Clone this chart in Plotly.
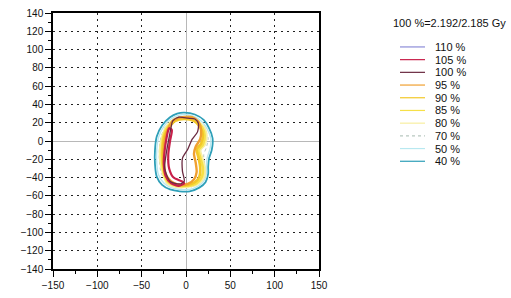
import plotly.graph_objects as go

# ---- data -------------------------------------------------------------
x_tick_vals = [-150, -100, -50, 0, 50, 100, 150]
y_tick_vals = [-140, -120, -100, -80, -60, -40, -20, 0, 20, 40, 60, 80, 100, 120, 140]
header_text = "100 %=2.192/2.185 Gy"

legend_levels = ["110 %", "105 %", "100 %", "95 %", "90 %", "85 %", "80 %", "70 %", "50 %", "40 %"]
legend_colors = ["#8c8cd8", "#c8204a", "#6a2a40", "#f0a030", "#f3c828", "#f6e048",
                 "#f8eea0", "#b8c8c0", "#b8e8f0", "#2e9fb8"]
legend_dash = ["solid", "solid", "solid", "solid", "solid", "solid", "solid", "dot", "solid", "solid"]

# isodose contours (mm)
iso40_x = [-2, 10, 20, 26, 30, 29, 26, 25, 25, 22, 15, 4, -7, -18, -27, -33, -35, -35, -33, -27, -18, -10, -2]
iso40_y = [31, 29, 23, 14, 3, -10, -19, -28, -36, -45, -51, -55, -55, -53, -48, -39, -25, -10, 5, 17, 26, 30, 31]

iso50_x = [-2, 9, 18, 24, 28, 27, 24, 23, 23, 20, 14, 4, -7, -17, -25, -31, -33, -33, -31, -25, -17, -9, -2]
iso50_y = [29, 27, 21, 13, 3, -9, -18, -28, -36, -44, -49, -53, -53, -51, -46, -37, -24, -10, 4, 16, 24, 28, 29]

iso70_x = [-2, 9, 17, 22, 25, 23, 20, 21, 21, 18, 12, 3, -7, -16, -23, -28, -30, -30, -28, -23, -16, -9, -2]
iso70_y = [27, 25, 19, 11, 3, -7, -15, -25, -34, -42, -48, -51, -51, -48, -43, -35, -22, -8, 5, 16, 22, 26, 27]

iso80_x = [-2, 11, 20, 23, 21, 16, 18, 21, 20, 13, 2, -11, -21, -26, -29, -29, -26, -21, -12, -2]
iso80_y = [26, 23, 15, 6, -4, -10, -18, -29, -40, -47, -50, -50, -46, -35, -21, -7, 7, 17, 24, 26]

iso85_x = [-2, 10, 18, 21, 19, 14, 16, 19, 18, 12, 2, -10, -20, -25, -27, -27, -25, -20, -12, -2]
iso85_y = [25, 22, 15, 6, -4, -10, -18, -29, -39, -46, -49, -49, -45, -35, -21, -7, 7, 16, 23, 25]

iso90_x = [-2, 9, 16, 19, 17, 12, 14, 16, 15, 10, 2, -9, -19, -24, -26, -26, -24, -19, -12, -2]
iso90_y = [24, 22, 15, 7, -3, -9, -18, -29, -39, -45, -48, -48, -44, -35, -21, -7, 6, 15, 22, 24]

iso95_x = [-14, -4, 7, 14, 17, 16, 11, 9, 11, 12, 9, 2, -8, -17, -23, -25, -25, -23, -19, -14]
iso95_y = [23, 26, 26, 21, 12, 2, -6, -14, -24, -34, -42, -47, -48, -44, -36, -24, -10, 5, 16, 23]

iso100_x = [-15, -8, 2, 10, 14, 13, 7, 2, -4, -4, -2, -7, -18, -24, -22, -19, -17, -15]
iso100_y = [22, 26, 25, 24, 19, 10, 2, -9, -19, -33, -44, -47, -44, -30, -12, 4, 14, 22]

iso105_x = [-19, -16, -18, -20, -19, -14, -5, -2, -8, -17, -23, -25, -24, -22, -20, -19]
iso105_y = [14, 12, 0, -15, -30, -40, -44, -46, -49, -46, -38, -25, -10, 3, 12, 14]

contours = [
    ("40 %", iso40_x, iso40_y, legend_colors[9], 1.8, "solid"),
    ("50 %", iso50_x, iso50_y, legend_colors[8], 1.4, "solid"),
    ("70 %", iso70_x, iso70_y, legend_colors[7], 1.0, "dot"),
    ("80 %", iso80_x, iso80_y, legend_colors[6], 2.6, "solid"),
    ("85 %", iso85_x, iso85_y, legend_colors[5], 2.6, "solid"),
    ("90 %", iso90_x, iso90_y, legend_colors[4], 2.6, "solid"),
    ("95 %", iso95_x, iso95_y, legend_colors[3], 2.4, "solid"),
    ("105 %", iso105_x, iso105_y, legend_colors[1], 2.2, "solid"),
    ("100 %", iso100_x, iso100_y, legend_colors[2], 1.3, "solid"),
]

# ---- figure -----------------------------------------------------------
fig = go.Figure()
for name, xs, ys, col, w, dash in contours:
    fig.add_trace(go.Scatter(x=xs, y=ys, mode="lines", name=name,
                             line=dict(color=col, width=w, dash=dash, shape="spline", smoothing=0.7),
                             showlegend=False, hoverinfo="skip"))

L, R, T, B = 53, 192, 7, 27
W, H = 511, 298
pw, ph = W - L - R, H - T - B

def px_x(px):
    return (px - L) / pw

def px_y(py):
    return (H - B - py) / ph

FONT = "Liberation Sans, Arial"
annotations = [dict(text=header_text, x=px_x(391), y=px_y(17), xref="paper", yref="paper",
                    xanchor="left", yanchor="middle", showarrow=False,
                    font=dict(family=FONT, size=11, color="#111"))]
shapes = []
for i, (lab, col, dsh) in enumerate(zip(legend_levels, legend_colors, legend_dash)):
    yy = 42 + i * 13.1
    annotations.append(dict(text=lab, x=px_x(433), y=px_y(yy), xref="paper", yref="paper",
                            xanchor="left", yanchor="middle", showarrow=False,
                            font=dict(family=FONT, size=11, color="#111")))
    shapes.append(dict(type="line", xref="paper", yref="paper",
                       x0=px_x(400), x1=px_x(425), y0=px_y(yy), y1=px_y(yy),
                       line=dict(color=col, width=1.2, dash=dsh)))

axis_common = dict(
    showline=True, linecolor="black", linewidth=1.5, mirror=True,
    ticks="outside", ticklen=6, tickwidth=1.2, tickcolor="black",
    showgrid=True, gridcolor="#222", gridwidth=1.4, griddash="1.5px,4.5px",
    zeroline=True, zerolinecolor="#b8b8b8", zerolinewidth=1,
    tickfont=dict(family=FONT, size=10, color="#111"),
)

fig.update_layout(
    width=W, height=H,
    margin=dict(l=L, r=R, t=T, b=B),
    paper_bgcolor="white", plot_bgcolor="white",
    xaxis=dict(range=[-150, 150], tickvals=x_tick_vals,
               minor=dict(dtick=25, tick0=-150, ticks="outside", ticklen=3, tickcolor="black", showgrid=False),
               **axis_common),
    yaxis=dict(range=[-140, 140], tickvals=y_tick_vals,
               minor=dict(dtick=10, tick0=-140, ticks="outside", ticklen=3, tickcolor="black", showgrid=False),
               **axis_common),
    annotations=annotations, shapes=shapes,
)

fig.write_html("out.html", config={"displayModeBar": False},
               post_script="document.body.style.margin='0';document.body.style.padding='0';")
